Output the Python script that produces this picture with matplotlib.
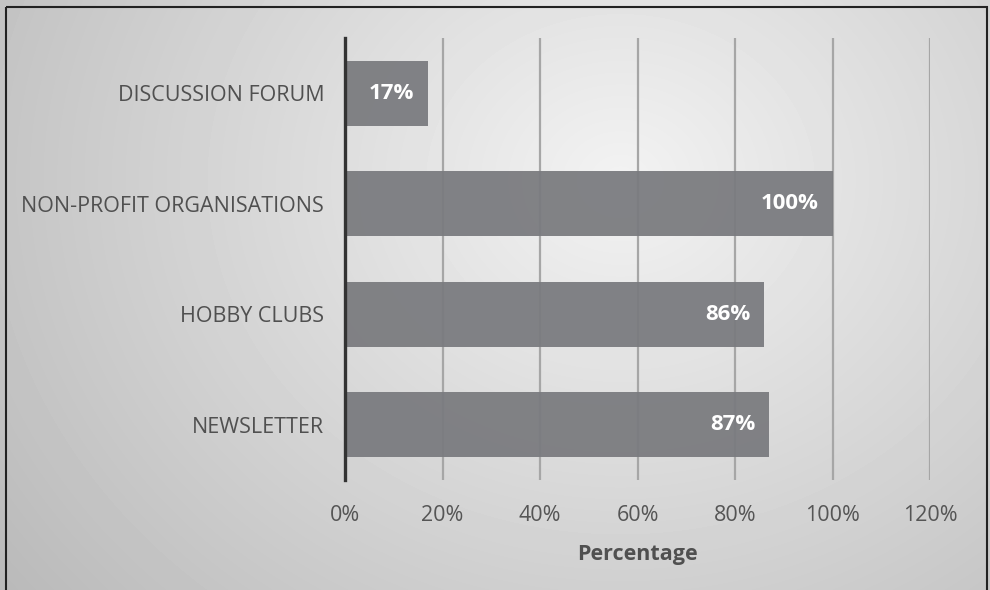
import numpy as np
import matplotlib
matplotlib.use("Agg")
import matplotlib.pyplot as plt
from matplotlib.patches import Rectangle

categories = ["NEWSLETTER", "HOBBY CLUBS", "NON-PROFIT ORGANISATIONS", "DISCUSSION FORUM"]
values = [87, 86, 100, 17]
value_labels = ["87%", "86%", "100%", "17%"]
xticks = [0, 20, 40, 60, 80, 100, 120]
xtick_labels = ["0%", "20%", "40%", "60%", "80%", "100%", "120%"]
xlabel = "Percentage"

plt.rcParams['font.family'] = ['Open Sans', 'DejaVu Sans']

W, H = 990, 590
fig = plt.figure(figsize=(W/100, H/100), dpi=100)

# background gradient
bg = fig.add_axes([0, 0, 1, 1], zorder=-10)
yy, xx = np.mgrid[0:H, 0:W]
d = np.sqrt(((xx - 620) / 700.0) ** 2 + ((yy - 180) / 600.0) ** 2)
img = 0.95 - 0.20 * np.clip(d, 0, 1.2)
bg.imshow(img, cmap='gray', vmin=0, vmax=1, extent=[0, W, H, 0], aspect='auto')
bg.set_xlim(0, W); bg.set_ylim(H, 0)
bg.axis('off')
bg.add_patch(Rectangle((6, 7), 981, 600, fill=False, edgecolor='#222222', lw=1.5))

ax = fig.add_axes([345/W, (H-480)/H, (930-345)/W, (480-38)/H])
ax.patch.set_alpha(0)
ypos = np.arange(len(categories))
ax.set_xlim(0, 120)
ax.set_ylim(-0.5, len(categories) - 0.5)
for x in xticks[1:]:
    ax.axvline(x, color='#a6a6a6', lw=1.6, zorder=1)
bars = ax.barh(ypos, values, height=0.585, color='#7a7b7f', alpha=0.94, zorder=2)
ax.axvline(0, color='#333333', lw=2.4, zorder=4, clip_on=False)
for y, v, lab in zip(ypos, values, value_labels):
    ax.text(v - 2.8, y, lab, ha='right', va='center', color='white',
            fontsize=16, fontweight='bold', zorder=5)

ax.set_yticks(ypos)
ax.set_yticklabels(categories, fontsize=15.5, color='#505050')
ax.set_xticks(xticks)
ax.set_xticklabels(xtick_labels, fontsize=15.5, color='#555555')
ax.tick_params(axis='both', length=0)
ax.tick_params(axis='y', pad=15)
ax.tick_params(axis='x', pad=18)
ax.set_xlabel(xlabel, fontsize=15.5, fontweight='bold', color='#505050', labelpad=13)
for s in ax.spines.values():
    s.set_visible(False)

fig.savefig("out.png", dpi=100)
